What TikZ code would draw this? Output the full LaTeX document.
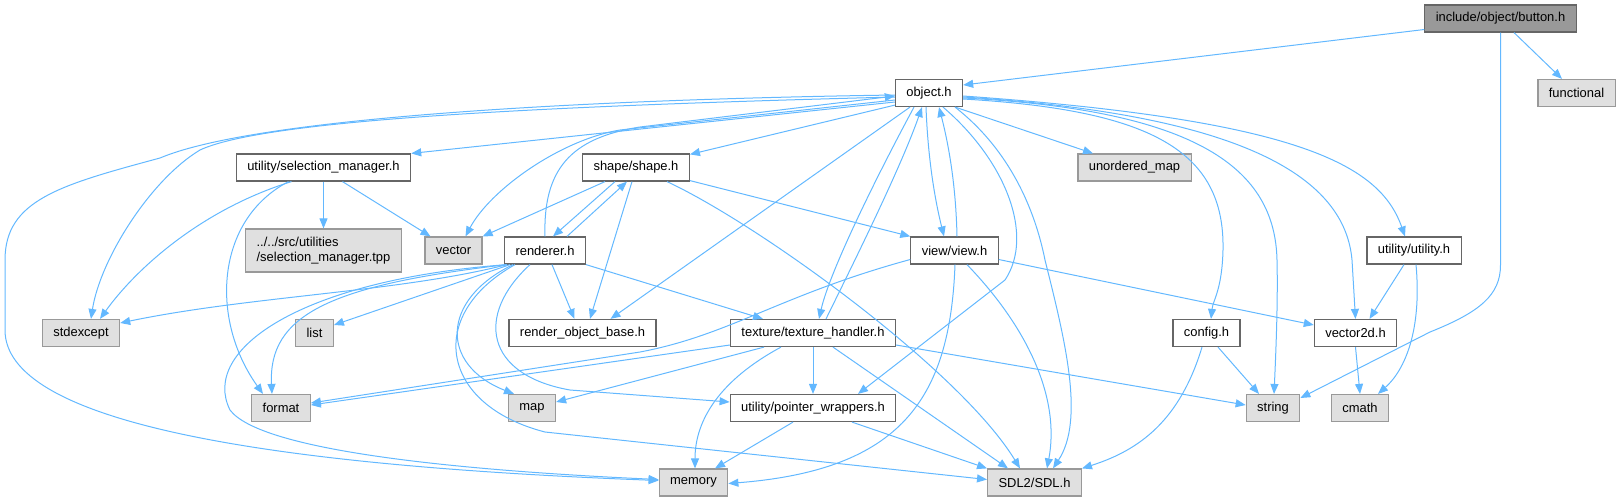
\documentclass[tikz,border=0pt]{standalone}
\usepackage{fontspec}
\setmainfont{Liberation Sans}
\usepackage{tikz}
\usetikzlibrary{arrows.meta}
\definecolor{edgeblue}{HTML}{63B8FF}
\definecolor{boxline}{HTML}{666666}
\definecolor{extline}{HTML}{999999}
\definecolor{extfill}{HTML}{E0E0E0}
\definecolor{rootfill}{HTML}{999999}
\tikzset{
  filebox/.style={
    rectangle, draw=boxline, fill=white, line width=0.9pt,
    minimum height=20.25pt, inner xsep=8.2pt, inner ysep=2pt,
    font=\fontsize{9.7}{11.7}\selectfont
  },
  extbox/.style={filebox, draw=extline, fill=extfill},
  rootbox/.style={filebox, draw=boxline, fill=rootfill},
  incarrow/.style={
    -{Triangle[length=7.5pt,width=6pt]}, color=edgeblue, line width=0.75pt
  },
}
\begin{document}
\begin{tikzpicture}[x=0.75pt, y=-0.75pt]
  \useasboundingbox (0,0) rectangle (1621,501);
  % rank 0 and 1
  \node[rootbox] (button) at (1500.5,18.5) {include/object/button.h};
  \node[extbox] (functional) at (1576.5,93) {functional};
  \node[filebox] (object) at (929,93) {object.h};
  % rank 2
  \node[filebox] (selmgr) at (323.5,167.5) {utility/selection\_manager.h};
  \node[filebox] (shape) at (636,167.5) {shape/shape.h};
  \node[extbox] (umap) at (1134.5,167.5) {unordered\_map};
  % rank 3
  \node[extbox, align=left, minimum height=32.25pt] (tpp) at (323.5,250.5) {../../src/utilities\\/selection\_manager.tpp};
  \node[extbox] (vector) at (453.5,250.5) {vector};
  \node[filebox] (renderer) at (545,250.5) {renderer.h};
  \node[filebox] (view) at (954.5,250.5) {view/view.h};
  \node[filebox] (utility) at (1414,250.5) {utility/utility.h};
  % rank 4
  \node[extbox] (stdexcept) at (81,333) {stdexcept};
  \node[extbox] (list) at (314.5,333) {list};
  \node[filebox] (robase) at (582.5,333) {render\_object\_base.h};
  \node[filebox] (texture) at (813,333) {texture/texture\_handler.h};
  \node[filebox] (config) at (1206.5,333) {config.h};
  \node[filebox] (vec2d) at (1355.5,333) {vector2d.h};
  % rank 5
  \node[extbox] (format) at (281,408) {format};
  \node[extbox] (map) at (532,408) {map};
  \node[filebox] (pointer) at (813,408) {utility/pointer\_wrappers.h};
  \node[extbox] (string) at (1273,408) {string};
  \node[extbox] (cmath) at (1360,408) {cmath};
  % rank 6
  \node[extbox] (memory) at (693.5,482.5) {memory};
  \node[extbox] (sdl) at (1034.5,482.5) {SDL2/SDL.h};

  % button.h
  \draw[incarrow] ([shift={(0,11)}]button.west) -- ([shift={(0,-8)}]object.east);
  \draw[incarrow] ([shift={(13.5,0)}]button.south) -- ([shift={(-14.5,0)}]functional.north);
  \draw[incarrow] (button.south) -- (1500.5,265) .. controls (1500.5,295) and (1480,312) .. (1430,332) -- ([shift={(0,-10)}]string.east);

  % object.h
  \draw[incarrow] ([shift={(0,9)}]object.west) -- (selmgr.north east);
  \draw[incarrow] ([shift={(0,-2)}]object.south west) -- ([shift={(0,1)}]shape.north east);
  \draw[incarrow] ([shift={(-8,0)}]object.south east) -- ([shift={(-41.5,0)}]umap.north);
  \draw[incarrow] ([shift={(0,4)}]object.west) .. controls (500,107) and (260,122) .. (200,150)
    .. controls (150,180) and (100,260) .. ([shift={(10,0)}]stdexcept.north);
  \draw[incarrow] ([shift={(0,2)}]object.west) .. controls (550,100) and (250,120) .. (160,158)
    .. controls (60,185) and (5,200) .. (5,260) -- (5,330)
    .. controls (5,420) and (250,465) .. ([shift={(0,-2)}]memory.west);
  \draw[incarrow] ([shift={(0,7)}]object.west) -- (620,130) .. controls (560,140) and (490,190) .. ([shift={(12,0)}]vector.north);
  \draw[incarrow] ([shift={(-19,0)}]object.south) -- ([shift={(28,0)}]robase.north);
  \draw[incarrow] ([shift={(-15,0)}]object.south) .. controls (880,170) and (830,270) .. ([shift={(6,0)}]texture.north);
  \draw[incarrow] ([shift={(-3,0)}]object.south) .. controls (928,160) and (935,200) .. ([shift={(-10.5,0)}]view.north);
  \draw[incarrow] ([shift={(14,0)}]object.south) .. controls (1005,160) and (1035,235) .. (1005,280) -- ([shift={(45,0)}]pointer.north);
  \draw[incarrow] ([shift={(26,0)}]object.south) .. controls (1010,150) and (1035,210) .. (1045,260)
    .. controls (1065,340) and (1085,420) .. ([shift={(18.5,0)}]sdl.north);
  \draw[incarrow] ([shift={(0,6)}]object.east) .. controls (1150,110) and (1225,150) .. (1223,250)
    .. controls (1222,290) and (1213,300) .. ([shift={(4.5,0)}]config.north);
  \draw[incarrow] ([shift={(0,5)}]object.east) .. controls (1200,110) and (1275,170) .. (1277,260)
    .. controls (1278,300) and (1276,350) .. ([shift={(1,0)}]string.north);
  \draw[incarrow] ([shift={(0,4)}]object.east) .. controls (1250,115) and (1345,180) .. (1352,260) -- (vec2d.north);
  \draw[incarrow] ([shift={(0,3)}]object.east) .. controls (1300,120) and (1380,165) .. ([shift={(-9,0)}]utility.north);

  % utility/selection_manager.h
  \draw[incarrow] (selmgr.south) -- (tpp.north);
  \draw[incarrow] ([shift={(19,0)}]selmgr.south) -- ([shift={(-23,0)}]vector.north);
  \draw[incarrow] ([shift={(-32,0)}]selmgr.south) .. controls (200,210) and (135,270) .. ([shift={(19,0)}]stdexcept.north);
  \draw[incarrow] ([shift={(-35,0)}]selmgr.south) .. controls (215,220) and (210,320) .. ([shift={(-18,0)}]format.north);

  % shape/shape.h
  \draw[incarrow] ([shift={(-31,0)}]shape.south) -- (vector.north east);
  \draw[incarrow] ([shift={(-21,0)}]shape.south) -- ([shift={(8,0)}]renderer.north);
  \draw[incarrow] ([shift={(-4,0)}]shape.south) -- ([shift={(7.5,0)}]robase.north);
  \draw[incarrow] ([shift={(0,-1)}]shape.south east) -- (view.north west);
  \draw[incarrow] ([shift={(31,0)}]shape.south) .. controls (760,225) and (960,370) .. ([shift={(-14.5,0)}]sdl.north);

  % renderer.h
  \draw[incarrow] (renderer.north) .. controls (543,170) and (570,138) .. (640,127) -- ([shift={(0,3)}]object.west);
  \draw[incarrow] ([shift={(22,0)}]renderer.north) -- ([shift={(-9,0)}]shape.south);
  \draw[incarrow] ([shift={(-38,0)}]renderer.south) .. controls (400,292) and (250,296) .. ([shift={(0,-10)}]stdexcept.east);
  \draw[incarrow] ([shift={(-35,0)}]renderer.south) -- ([shift={(0,-8)}]list.east);
  \draw[incarrow] ([shift={(-38,0)}]renderer.south) .. controls (330,285) and (268,315) .. ([shift={(-9,0)}]format.north);
  \draw[incarrow] ([shift={(-38,0)}]renderer.south) .. controls (300,280) and (200,350) .. (230,410)
    .. controls (260,450) and (450,470) .. ([shift={(0,-3)}]memory.west);
  \draw[incarrow] ([shift={(-32,0)}]renderer.south) .. controls (440,300) and (440,365) .. ([shift={(-18,0)}]map.north);
  \draw[incarrow] ([shift={(-30,0)}]renderer.south) .. controls (425,315) and (440,405) .. (545,432) -- ([shift={(0,-3)}]sdl.west);
  \draw[incarrow] ([shift={(-15,0)}]renderer.south) .. controls (475,315) and (485,375) .. (570,390) -- ([shift={(0,-6)}]pointer.west);
  \draw[incarrow] ([shift={(7,0)}]renderer.south) -- ([shift={(-8,0)}]robase.north);
  \draw[incarrow] (renderer.south east) -- ([shift={(-50,0)}]texture.north);

  % view/view.h
  \draw[incarrow] ([shift={(2.5,0)}]view.north) .. controls (956,190) and (950,150) .. ([shift={(10,0)}]object.south);
  \draw[incarrow] ([shift={(0,9)}]view.west) .. controls (780,295) and (730,335) .. (640,352) -- ([shift={(0,-5)}]format.east);
  \draw[incarrow] ([shift={(0.5,0)}]view.south) .. controls (950,400) and (900,470) .. ([shift={(0,1)}]memory.east);
  \draw[incarrow] ([shift={(12.5,0)}]view.south) .. controls (1030,330) and (1060,400) .. ([shift={(12.5,0)}]sdl.north);
  \draw[incarrow] ([shift={(0,9)}]view.east) -- ([shift={(0,-8)}]vec2d.west);

  % texture/texture_handler.h
  \draw[incarrow] ([shift={(13,0)}]texture.north) .. controls (850,270) and (900,170) .. ([shift={(-7,0)}]object.south);
  \draw[incarrow] ([shift={(0,12)}]texture.west) -- ([shift={(0,-3)}]format.east);
  \draw[incarrow] ([shift={(-49,0)}]texture.south) -- ([shift={(0,-6)}]map.east);
  \draw[incarrow] ([shift={(-32,0)}]texture.south) .. controls (720,380) and (695,420) .. ([shift={(1.5,0)}]memory.north);
  \draw[incarrow] (texture.south) -- (pointer.north);
  \draw[incarrow] ([shift={(20,0)}]texture.south) -- ([shift={(-26.5,0)}]sdl.north);
  \draw[incarrow] ([shift={(0,12)}]texture.east) -- ([shift={(0,-3)}]string.west);

  % utility/pointer_wrappers.h
  \draw[incarrow] ([shift={(-20,0)}]pointer.south) -- ([shift={(21.5,0)}]memory.north);
  \draw[incarrow] ([shift={(39,0)}]pointer.south) -- (sdl.north west);

  % config.h, utility.h, vector2d.h
  \draw[incarrow] ([shift={(11.5,0)}]config.south) -- ([shift={(-14,0)}]string.north);
  \draw[incarrow] ([shift={(-4.5,0)}]config.south) .. controls (1180,420) and (1140,450) .. (sdl.north east);
  \draw[incarrow] ([shift={(-10,0)}]utility.south) -- ([shift={(14,0)}]vec2d.north);
  \draw[incarrow] ([shift={(2,0)}]utility.south) .. controls (1422,330) and (1405,370) .. ([shift={(18,0)}]cmath.north);
  \draw[incarrow] (vec2d.south) -- (cmath.north);
\end{tikzpicture}
\end{document}
